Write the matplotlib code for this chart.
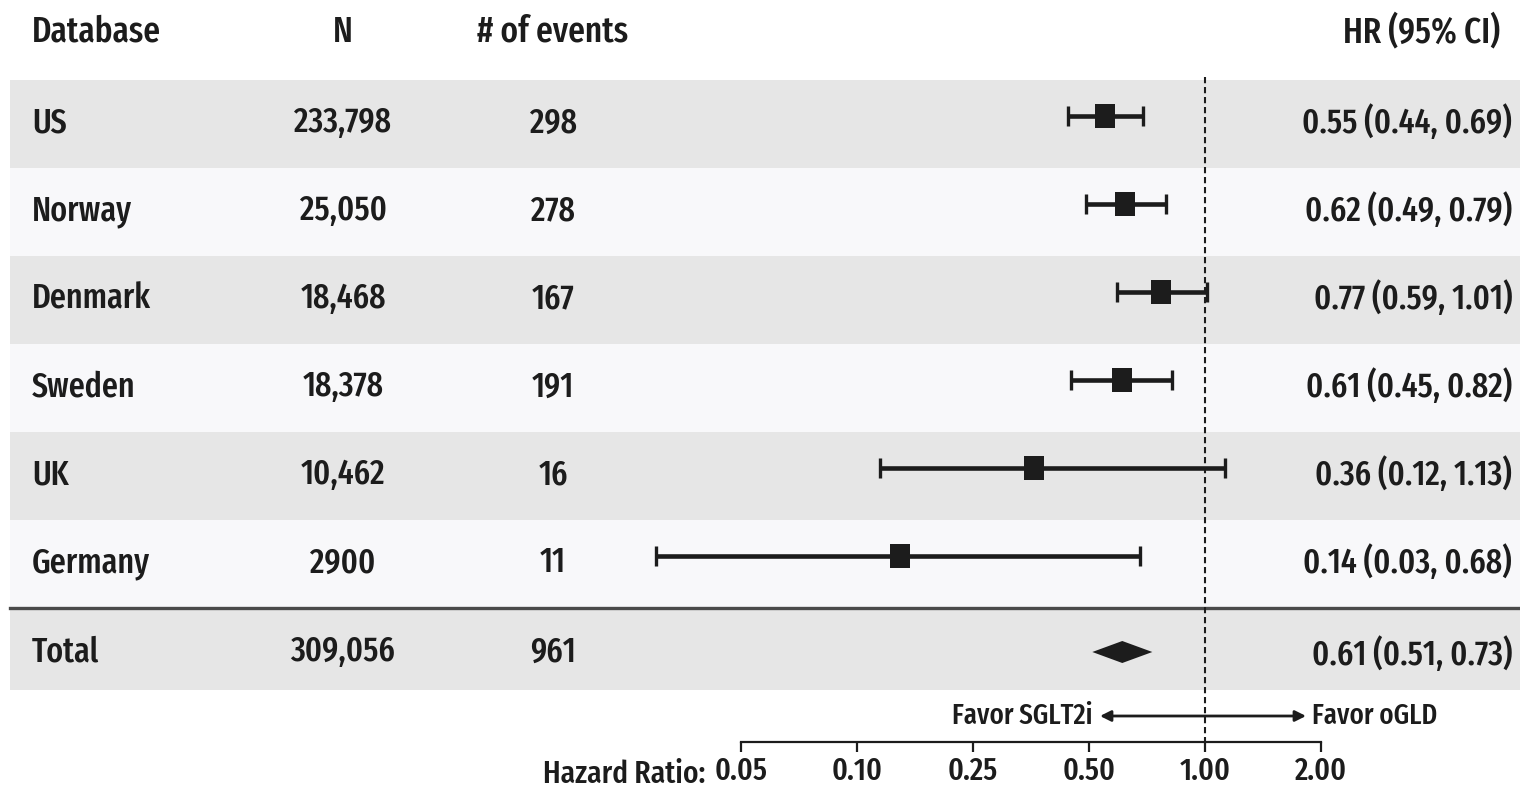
import matplotlib.pyplot as plt
import numpy as np

plt.rcParams['font.family'] = ['Fira Sans Extra Condensed', 'Fira Sans Condensed', 'DejaVu Sans']
plt.rcParams['font.weight'] = 500

# data
databases = ['US', 'Norway', 'Denmark', 'Sweden', 'UK', 'Germany']
n_pts = ['233,798', '25,050', '18,468', '18,378', '10,462', '2900']
n_events = [298, 278, 167, 191, 16, 11]
hr = [0.55, 0.62, 0.77, 0.61, 0.36, 0.14]
ci_lo = [0.44, 0.49, 0.59, 0.45, 0.12, 0.03]
ci_hi = [0.69, 0.79, 1.01, 0.82, 1.13, 0.68]

total_n = '309,056'
total_events = 961
total_hr, total_lo, total_hi = 0.61, 0.51, 0.73

tick_vals = [0.05, 0.10, 0.25, 0.50, 1.00, 2.00]

# piecewise log scale: tick values evenly spaced
lt = np.log(tick_vals)
kk = np.arange(len(tick_vals))


def fwd(x):
    lx = np.log(np.maximum(np.asarray(x, float), 1e-9))
    out = np.interp(lx, lt, kk)
    out = np.where(lx < lt[0], (lx - lt[0]) / (lt[1] - lt[0]), out)
    out = np.where(lx > lt[-1], kk[-1] + (lx - lt[-1]) / (lt[-1] - lt[-2]), out)
    return out


def inv(p):
    p = np.asarray(p, float)
    lx = np.interp(p, kk, lt)
    lx = np.where(p < 0, lt[0] + p * (lt[1] - lt[0]), lx)
    lx = np.where(p > kk[-1], lt[-1] + (p - kk[-1]) * (lt[-1] - lt[-2]), lx)
    return np.exp(lx)


W, H = 1520, 789
fig = plt.figure(figsize=(15.2, 7.89), dpi=100)
fig.patch.set_facecolor('white')

# table / background axes in pixel coords
bg = fig.add_axes([0, 0, 1, 1])
bg.set_xlim(0, W)
bg.set_ylim(H, 0)
bg.axis('off')

txt = '#1c1c1c'
gray = '#e6e6e6'
light = '#f8f8fa'
row_h = 88
top0 = 80

fs_head = 26
fs_row = 25

bg.text(32, 32, 'Database', fontsize=fs_head, ha='left', va='center', color=txt)
bg.text(343, 32, 'N', fontsize=fs_head, ha='center', va='center', color=txt)
bg.text(553, 32, '# of events', fontsize=fs_head, ha='center', va='center', color=txt)
bg.text(1500, 32, 'HR (95% CI)', fontsize=fs_head, ha='right', va='center', color=txt)

row_y = []
for i, name in enumerate(databases):
    top = top0 + row_h * i
    bg.add_patch(plt.Rectangle((10, top), W - 10, row_h,
                               color=gray if i % 2 == 0 else light, lw=0))
    yc = top + row_h / 2 - 1
    row_y.append(yc)
    bg.text(32, yc, name, fontsize=fs_row, ha='left', va='center', color=txt)
    bg.text(343, yc, n_pts[i], fontsize=fs_row, ha='center', va='center', color=txt)
    bg.text(553, yc, str(n_events[i]), fontsize=fs_row, ha='center', va='center', color=txt)
    bg.text(1512, yc, f'{hr[i]:.2f} ({ci_lo[i]:.2f}, {ci_hi[i]:.2f})',
            fontsize=fs_row, ha='right', va='center', color=txt)

sep_y = top0 + row_h * len(databases)
bg.plot([10, W], [sep_y, sep_y], color='#4a4a4a', lw=2.4)
bg.add_patch(plt.Rectangle((10, sep_y + 2), W - 10, 80, color=gray, lw=0))
ty = sep_y + 44
bg.text(32, ty, 'Total', fontsize=fs_row, ha='left', va='center', color=txt)
bg.text(343, ty, total_n, fontsize=fs_row, ha='center', va='center', color=txt)
bg.text(553, ty, str(total_events), fontsize=fs_row, ha='center', va='center', color=txt)
bg.text(1512, ty + 3, f'{total_hr:.2f} ({total_lo:.2f}, {total_hi:.2f})',
        fontsize=fs_row, ha='right', va='center', color=txt)

# favor arrow
bg.annotate('', xy=(1100, 716), xytext=(1306, 716),
            arrowprops=dict(arrowstyle='<|-|>', color=txt, lw=2.0,
                            mutation_scale=16, shrinkA=0, shrinkB=0))
bg.text(1093, 716, 'Favor SGLT2i', fontsize=21, ha='right', va='center', color=txt)
bg.text(1312, 716, 'Favor oGLD', fontsize=21, ha='left', va='center', color=txt)
bg.text(705, 774, 'Hazard Ratio:', fontsize=23, ha='right', va='center', color=txt)

# forest axes
x0, x1, ybot = 741, 1321, 742
ax = fig.add_axes([x0 / W, (H - ybot) / H, (x1 - x0) / W, ybot / H])
ax.set_facecolor('none')
ax.set_xscale('function', functions=(fwd, inv))
ax.set_xlim(tick_vals[0], tick_vals[-1])
ax.set_ylim(ybot, 0)
for s in ['left', 'top', 'right']:
    ax.spines[s].set_visible(False)
ax.spines['bottom'].set_linewidth(1.6)
ax.spines['bottom'].set_color(txt)
ax.set_yticks([])
ax.set_xticks(tick_vals)
ax.set_xticklabels([f'{v:.2f}' for v in tick_vals], fontsize=23, color=txt)
ax.xaxis.set_minor_locator(plt.NullLocator())
ax.tick_params(axis='x', length=7, width=1.6, color=txt, pad=3)

ax.plot([1, 1], [77, ybot], color=txt, lw=1.5, ls=(0, (3, 1.8)), zorder=1)

# tall-ish box marker (picture is slightly squeezed horizontally)
box = [(-0.82, -1), (0.82, -1), (0.82, 1), (-0.82, 1), (-0.82, -1)]
my = np.array(row_y) - 7
xerr = [np.array(hr) - np.array(ci_lo), np.array(ci_hi) - np.array(hr)]
ax.errorbar(hr, my, xerr=xerr, fmt='none', ecolor=txt, elinewidth=3.3,
            capsize=7, capthick=2.4, clip_on=False, zorder=3)
ax.plot(hr, my, ls='none', marker=box, ms=17, color=txt, mew=0,
        clip_on=False, zorder=4)

dy = 11
ax.fill([total_lo, total_hr, total_hi, total_hr],
        [ty, ty - dy, ty, ty + dy], color=txt, lw=0, zorder=3)

fig.savefig('out.png', dpi=100)
